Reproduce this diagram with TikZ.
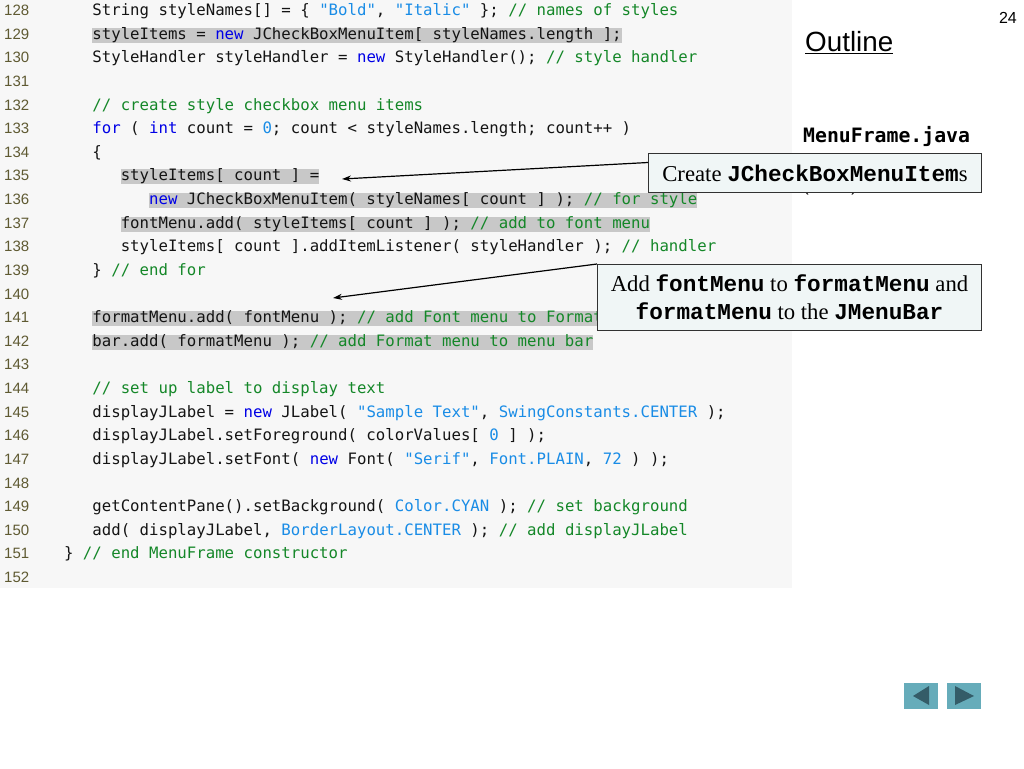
\documentclass[tikz,border=0pt]{standalone}
\usepackage{fontspec}
\setmainfont{Liberation Serif}
\setsansfont{Liberation Sans}
\setmonofont{DejaVu Sans Mono}
\newfontfamily\courfont{Liberation Mono}
\usetikzlibrary{arrows.meta}

\definecolor{codefg}{RGB}{20,20,20}
\definecolor{kwblue}{RGB}{0,0,230}
\definecolor{litblue}{RGB}{25,140,230}
\definecolor{comgreen}{RGB}{20,135,40}
\definecolor{hlgray}{RGB}{200,200,200}
\definecolor{codebg}{RGB}{247,247,247}
\definecolor{lnumcol}{RGB}{95,90,50}
\definecolor{boxfill}{RGB}{240,246,246}
\definecolor{boxdraw}{RGB}{50,50,50}
\definecolor{navfill}{RGB}{102,172,186}
\definecolor{navtri}{RGB}{52,92,104}

\newcommand{\jkw}[1]{\textcolor{kwblue}{#1}}
\newcommand{\jlit}[1]{\textcolor{litblue}{#1}}
\newcommand{\jcom}[1]{\textcolor{comgreen}{#1}}
\newcommand{\jb}[1]{{\courfont\bfseries #1}}

\begin{document}
\begin{tikzpicture}[x=1pt, y=-1pt,
    lnum/.style={anchor=base west, inner sep=0pt, text=lnumcol,
      font=\sffamily\fontsize{15}{18}\selectfont},
    codeline/.style={anchor=base west, inner xsep=0pt, inner ysep=0pt,
      text height=11.5pt, text depth=3.5pt, text=codefg,
      font=\ttfamily\fontsize{15.7}{18}\selectfont},
    hl/.style={fill=hlgray},
    callout/.style={draw=boxdraw, line width=1pt, fill=boxfill, inner sep=0pt,
      align=center, font=\rmfamily\fontsize{22.7}{28}\selectfont},
    callarrow/.style={line width=1.2pt, -{Stealth[length=9pt,width=6pt]}}]
    \useasboundingbox (0,0) rectangle (1024,768);
    \fill[white] (0,0) rectangle (1024,768);
    \fill[codebg] (0,0) rectangle (792,588);

    % line numbers
    \foreach \n in {128,...,152}
      \node[lnum] (n\n) at (4, {15.5+23.625*(\n-128)}) {\n};

    % code
    \node[codeline] (c128) at (92.2, 15.5) {String styleNames[] = \{ \jlit{"Bold"}, \jlit{"Italic"} \}; \jcom{// names of styles}};
    \node[codeline, hl] (c129) at (92.2, 39.1) {styleItems = \jkw{new} JCheckBoxMenuItem[ styleNames.length ];};
    \node[codeline] (c130) at (92.2, 62.75) {StyleHandler styleHandler = \jkw{new} StyleHandler(); \jcom{// style handler}};
    \node[codeline] (c132) at (92.2, 110.0) {\jcom{// create style checkbox menu items}};
    \node[codeline] (c133) at (92.2, 133.6) {\jkw{for} ( \jkw{int} count = \jlit{0}; count < styleNames.length; count++ )};
    \node[codeline] (c134) at (92.2, 157.25) {\{};
    \node[codeline, hl] (c135) at (120.55, 180.9) {styleItems[ count ] =};
    \node[codeline, hl] (c136) at (148.9, 204.5) {\jkw{new} JCheckBoxMenuItem( styleNames[ count ] ); \jcom{// for style}};
    \node[codeline, hl] (c137) at (120.55, 228.1) {fontMenu.add( styleItems[ count ] ); \jcom{// add to font menu}};
    \node[codeline] (c138) at (120.55, 251.75) {styleItems[ count ].addItemListener( styleHandler ); \jcom{// handler}};
    \node[codeline] (c139) at (92.2, 275.4) {\} \jcom{// end for}};
    \node[codeline, hl] (c141) at (92.2, 322.6) {formatMenu.add( fontMenu ); \jcom{// add Font menu to Format menu}};
    \node[codeline, hl] (c142) at (92.2, 346.25) {bar.add( formatMenu ); \jcom{// add Format menu to menu bar}};
    \node[codeline] (c144) at (92.2, 393.5) {\jcom{// set up label to display text}};
    \node[codeline] (c145) at (92.2, 417.1) {displayJLabel = \jkw{new} JLabel( \jlit{"Sample Text"}, \jlit{SwingConstants.CENTER} );};
    \node[codeline] (c146) at (92.2, 440.75) {displayJLabel.setForeground( colorValues[ \jlit{0} ] );};
    \node[codeline] (c147) at (92.2, 464.4) {displayJLabel.setFont( \jkw{new} Font( \jlit{"Serif"}, \jlit{Font.PLAIN}, \jlit{72} ) );};
    \node[codeline] (c149) at (92.2, 511.6) {getContentPane().setBackground( \jlit{Color.CYAN} ); \jcom{// set background}};
    \node[codeline] (c150) at (92.2, 535.25) {add( displayJLabel, \jlit{BorderLayout.CENTER} ); \jcom{// add displayJLabel}};
    \node[codeline] (c151) at (63.85, 558.9) {\} \jcom{// end MenuFrame constructor}};

    % side panel
    \node[anchor=base east, inner sep=0pt, font=\sffamily\fontsize{16}{19}\selectfont] (pnum) at (1017, 24) {24};
    \node[anchor=base west, inner sep=0pt, font=\sffamily\fontsize{27.8}{32}\selectfont] (outl) at (805, 52) {\underline{Outline}};
    \node[anchor=base west, inner sep=0pt, font=\ttfamily\bfseries\fontsize{19.8}{23}\selectfont] (fname) at (803, 142) {MenuFrame.java};
    \node[anchor=base west, inner sep=0pt, font=\sffamily\fontsize{17}{20}\selectfont] (part) at (803, 191) {(3 of 3)};

    % callouts
    \node[callout, anchor=north west, minimum width=333pt, minimum height=39pt] (crt) at (648, 153)
      {Create \jb{JCheckBoxMenuItem}s};
    \node[callout, anchor=north west, minimum width=384pt, minimum height=66pt] (fnt) at (597, 264)
      {Add \jb{fontMenu} to \jb{formatMenu} and\\ \jb{formatMenu} to the \jb{JMenuBar}};
    \coordinate (tip1) at (342, 179);
    \coordinate (tip2) at (333, 298);
    \draw[callarrow] ([yshift=10.5pt]crt.west) -- (tip1);
    \draw[callarrow] (fnt.north west) -- (tip2);

    % navigation buttons
    \fill[navfill] (904, 683) rectangle (938, 709);
    \fill[navtri] (913, 696) -- (929, 686) -- (929, 705) -- cycle;
    \fill[navfill] (947, 683) rectangle (981, 709);
    \fill[navtri] (955, 686) -- (974, 696) -- (955, 705) -- cycle;
\end{tikzpicture}
\end{document}
